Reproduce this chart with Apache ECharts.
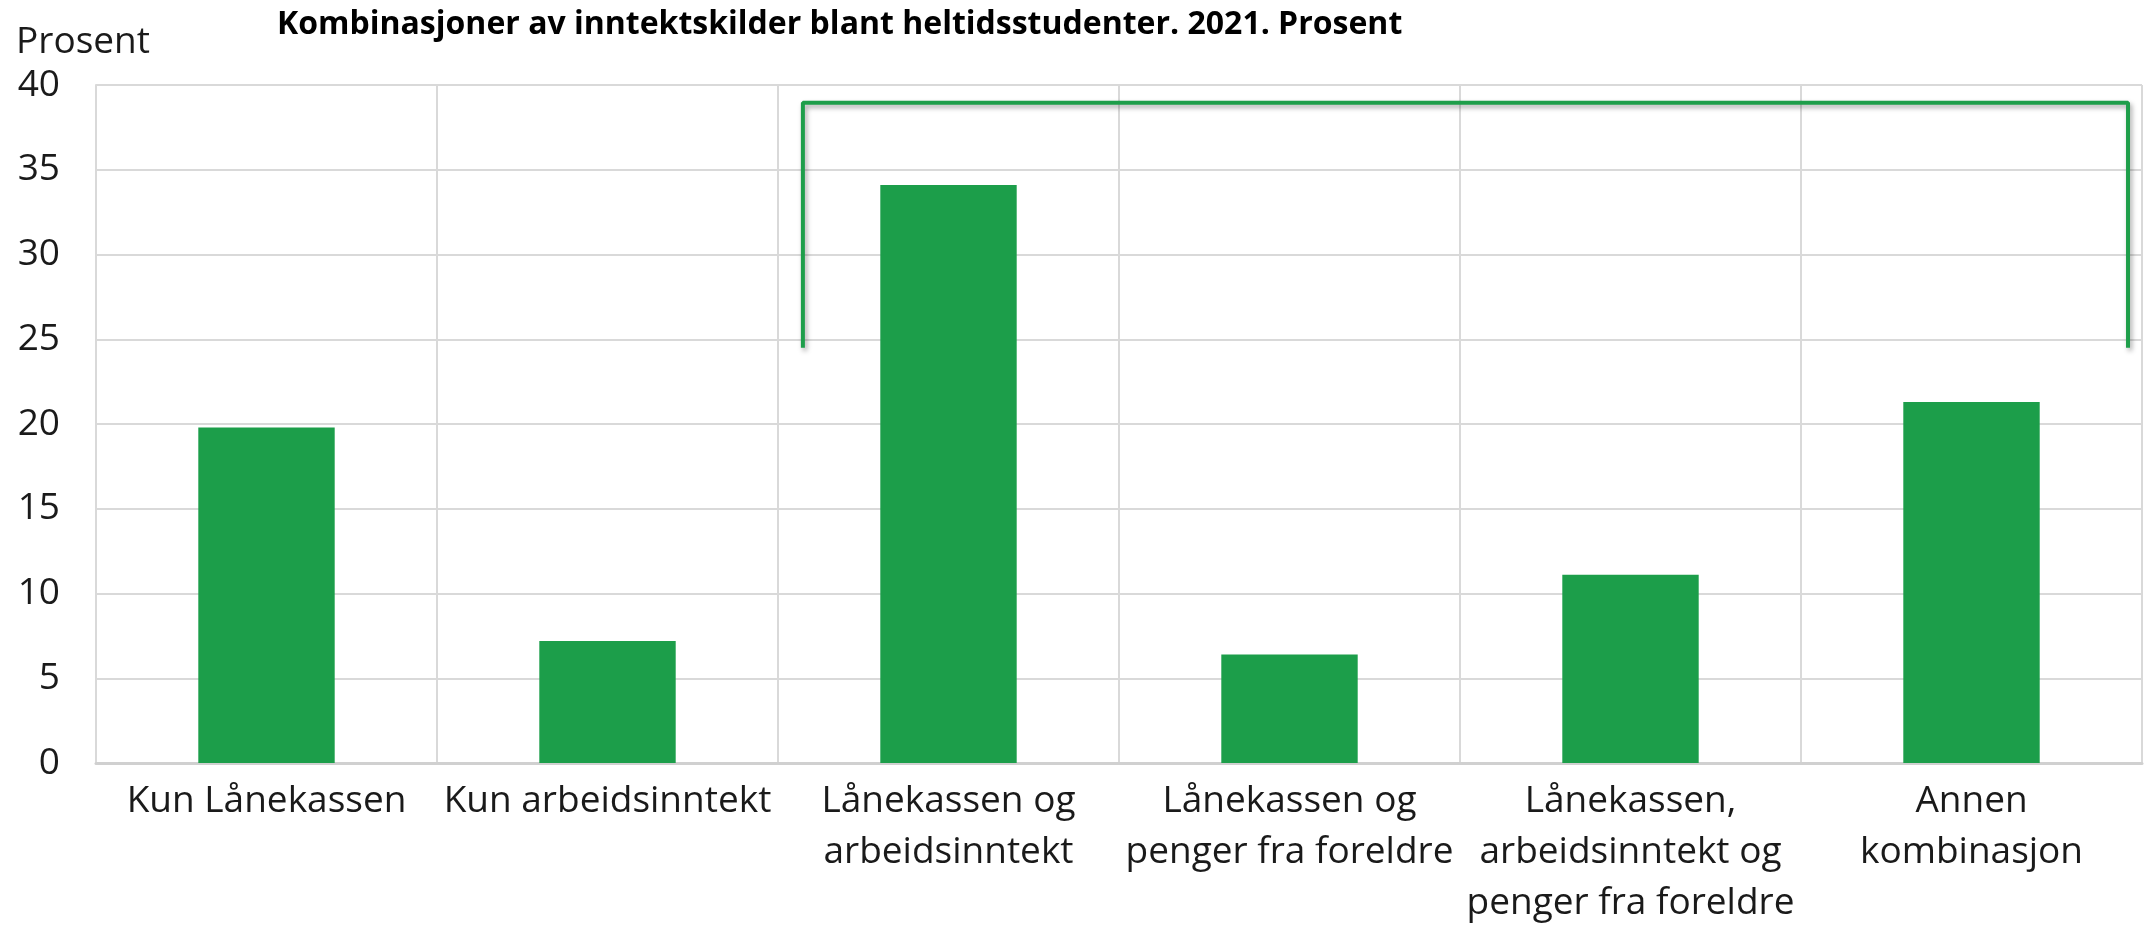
<!DOCTYPE html>
<html>
<head>
<meta charset="utf-8">
<script src="https://cdn.jsdelivr.net/npm/echarts@6/dist/echarts.min.js"></script>
<style>
    html, body {margin:0;padding:0;background:#ffffff;overflow:hidden;}
    #chart {width:2148px;height:927px;}
</style>
</head>
<body>
<div id="chart"></div>
<script>
    // kategorier og verdier (prosent)
    var categories = [
        'Kun Lånekassen',
        'Kun arbeidsinntekt',
        'Lånekassen og\narbeidsinntekt',
        'Lånekassen og\npenger fra foreldre',
        'Lånekassen,\narbeidsinntekt og\npenger fra foreldre',
        'Annen\nkombinasjon'
    ];
    var values = [19.8, 7.2, 34.1, 6.4, 11.1, 21.3];
    var yTicks = [0, 5, 10, 15, 20, 25, 30, 35, 40];

    // klammen over de fire siste søylene (x i kategori-enheter, y i prosent)
    var bracketX = [2.073, 2.073, 5.959, 5.959];
    var bracketY = [24.5, 38.95, 38.95, 24.5];
    // tynn blå strek helt til høyre
    var edgeX = [6.013, 6.013];
    var edgeY = [40, 30];

    var green = '#1c9e4a';
    var gridGrey = '#d9d9d9';

    var chart = echarts.init(document.getElementById('chart'));

    function pairs(xs, ys) {
        var out = [];
        for (var i = 0; i < xs.length; i++) out.push([xs[i], ys[i]]);
        return out;
    }

    var option = {
        backgroundColor: '#ffffff',
        animation: false,
        title: {
            text: 'Kombinasjoner av inntektskilder blant heltidsstudenter. 2021. Prosent',
            left: 272,
            top: 4,
            textStyle: {
                fontFamily: 'Open Sans',
                fontWeight: 'bold',
                fontSize: 32,
                color: '#000000'
            }
        },
        grid: {
            left: 96,
            right: 6,
            top: 85,
            bottom: 164,
            containLabel: false,
            outerBoundsMode: 'none'
        },
        xAxis: [
            {
                type: 'category',
                data: categories,
                axisTick: {show: false},
                axisLine: {show: true, lineStyle: {color: '#d0d0d0', width: 3}},
                splitLine: {show: true, lineStyle: {color: gridGrey, width: 2}},
                axisLabel: {
                    interval: 0,
                    margin: 13,
                    fontFamily: 'Open Sans',
                    fontSize: 37,
                    lineHeight: 51,
                    color: '#1a1a1a'
                }
            },
            {
                type: 'value',
                min: 0,
                max: 6,
                show: false
            }
        ],
        yAxis: {
            type: 'value',
            min: yTicks[0],
            max: yTicks[yTicks.length - 1],
            interval: 5,
            name: 'Prosent',
            nameLocation: 'end',
            nameGap: 24,
            nameTextStyle: {
                fontFamily: 'Open Sans',
                fontSize: 37,
                color: '#1a1a1a',
                align: 'left',
                padding: [0, 0, 0, -80]
            },
            axisTick: {show: false},
            axisLine: {show: true, lineStyle: {color: gridGrey, width: 2}},
            splitLine: {show: true, lineStyle: {color: gridGrey, width: 2}},
            axisLabel: {
                margin: 36,
                fontFamily: 'Open Sans',
                fontSize: 37,
                color: '#1a1a1a'
            }
        },
        series: [
            {
                type: 'bar',
                data: values,
                barWidth: '40%',
                itemStyle: {color: green}
            },
            {
                type: 'line',
                xAxisIndex: 1,
                data: pairs(bracketX, bracketY),
                symbol: 'none',
                clip: false,
                lineStyle: {
                    color: '#1e9e4a',
                    width: 4,
                    shadowColor: 'rgba(0,0,0,0.35)',
                    shadowBlur: 5,
                    shadowOffsetX: 2,
                    shadowOffsetY: 3
                }
            },
            {
                type: 'line',
                xAxisIndex: 1,
                data: pairs(edgeX, edgeY),
                symbol: 'none',
                clip: false,
                lineStyle: {color: '#8faadc', width: 2}
            }
        ]
    };

    chart.setOption(option);

    window.onresize = function () {
        chart.resize();
    };
</script>
</body>
</html>
